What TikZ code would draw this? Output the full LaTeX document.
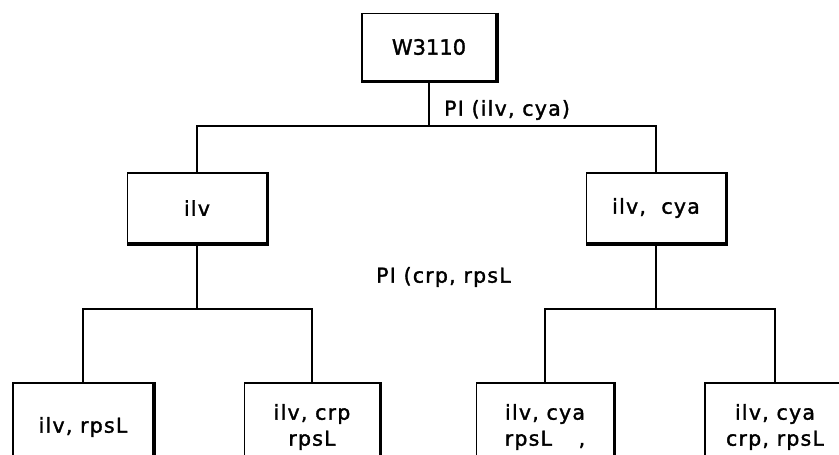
\documentclass[tikz,border=0pt]{standalone}
\usepackage{fontspec}
\setmainfont{DejaVu Sans}[LetterSpace=6, FakeBold=1.6]
\usetikzlibrary{positioning}
\tikzset{
stage/.style = {rectangle,
  minimum width=139pt,
  minimum height=70pt,
  align=center,
  draw=black,
  line width=1.8pt,
  font=\fontsize{20.5}{26}\selectfont},
leaf/.style = {stage, minimum height=88pt},
label/.style = {font=\fontsize{20.5}{22}\selectfont, inner sep=0pt},
branch/.style = {line width=1.8pt}
}
\begin{document}
\begin{tikzpicture}[x=1pt, y=-1pt]
\useasboundingbox (0,0) rectangle (839,455);
\clip (0,0) rectangle (839,455);
\node (root) [stage, minimum width=134pt, minimum height=67pt, font=\fontsize{21}{24}\selectfont\addfontfeature{LetterSpace=0}] at (429,47) {W3110};
\node (ilv) [stage] at (197,208) {ilv};
\node (ilvcya) [stage] at (656,208) {ilv,\ \ cya};
\node (ilvrps) [leaf, minimum width=140pt] at (83,427) {ilv, rpsL};
\node (ilvcrp) [leaf, minimum width=135pt] at (312,427) {ilv, crp\\rpsL};
\node (cyarps) [leaf, minimum width=137pt] at (545,427) {ilv, cya\\rpsL\hspace{1.3em},};
\node (cyacrp) [leaf, minimum width=140pt] at (775,427) {ilv, cya\\crp, rpsL};
\node (pcross) [label, anchor=west] at (444,110) {PI (ilv, cya)};
\node (qcross) [label, anchor=west] at (376,277) {PI (crp, rpsL};
\coordinate (jtop) at (429,126);
\coordinate (jleft) at (197,309);
\coordinate (jright) at (656,309);

% heavy lower and right edges
\foreach \n in {root,ilv,ilvcya,ilvrps,ilvcrp,cyarps,cyacrp}
  \draw [line width=3.2pt] (\n.north east) -- (\n.south east) -- (\n.south west);

\draw [branch] (root) -- (jtop);
\draw [branch] (jtop) -| (ilv);
\draw [branch] (jtop) -| (ilvcya);
\draw [branch] (ilv) -- (jleft);
\draw [branch] (jleft) -| (ilvrps);
\draw [branch] (jleft) -| (ilvcrp);
\draw [branch] (ilvcya) -- (jright);
\draw [branch] (jright) -| (cyarps);
\draw [branch] (jright) -| (cyacrp);
\end{tikzpicture}
\end{document}
